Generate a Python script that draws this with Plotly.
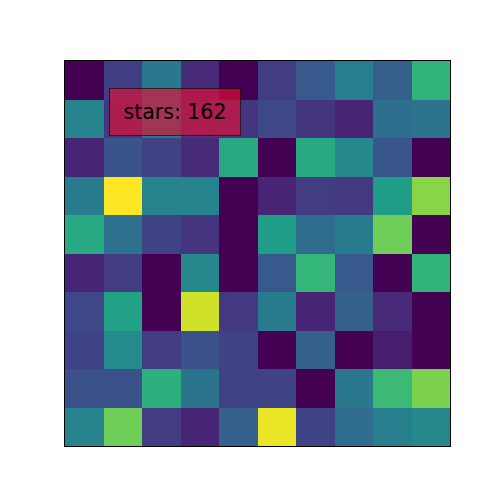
import plotly.graph_objects as go

row_labels = list(range(10))
col_labels = list(range(10))
values = [
    [0.00, 0.19, 0.40, 0.12, 0.00, 0.18, 0.28, 0.43, 0.30, 0.65],
    [0.45, 0.16, 0.40, 0.15, 0.15, 0.22, 0.15, 0.10, 0.36, 0.38],
    [0.10, 0.26, 0.20, 0.12, 0.60, 0.00, 0.60, 0.47, 0.27, 0.00],
    [0.42, 1.00, 0.45, 0.45, 0.00, 0.10, 0.18, 0.17, 0.55, 0.82],
    [0.60, 0.37, 0.20, 0.15, 0.00, 0.55, 0.35, 0.42, 0.78, 0.00],
    [0.10, 0.18, 0.00, 0.47, 0.00, 0.28, 0.66, 0.28, 0.00, 0.65],
    [0.22, 0.57, 0.00, 0.93, 0.17, 0.42, 0.10, 0.30, 0.12, 0.00],
    [0.20, 0.48, 0.18, 0.25, 0.20, 0.00, 0.30, 0.00, 0.08, 0.00],
    [0.25, 0.25, 0.63, 0.38, 0.20, 0.20, 0.00, 0.40, 0.68, 0.80],
    [0.45, 0.78, 0.18, 0.10, 0.30, 0.97, 0.20, 0.35, 0.43, 0.47],
]
label_text = "stars: 162"

fig = go.Figure(go.Heatmap(
    z=values, x=col_labels, y=row_labels,
    colorscale="Viridis", zmin=0, zmax=1, showscale=False,
    hoverinfo="skip",
))

fig.update_layout(
    width=500, height=500,
    margin=dict(l=57, r=58, t=53, b=62),
    paper_bgcolor="white", plot_bgcolor="white",
    xaxis=dict(showticklabels=False, ticks="", showgrid=False, zeroline=False,
               showline=True, mirror=True, linecolor="black", linewidth=1,
               range=[-0.5, 9.5]),
    yaxis=dict(showticklabels=False, ticks="", showgrid=False, zeroline=False,
               showline=True, mirror=True, linecolor="black", linewidth=1,
               range=[9.5, -0.5]),
    annotations=[dict(
        text=label_text, xref="paper", yref="paper",
        x=0.2857, y=0.867, xanchor="center", yanchor="middle",
        showarrow=False,
        font=dict(family="DejaVu Sans", size=20.5, color="black"),
        bgcolor="rgba(235,15,50,0.63)", bordercolor="rgba(0,0,0,0.6)",
        borderwidth=1, borderpad=0, width=130, height=46,
    )],
)

fig.write_html("out.html")
